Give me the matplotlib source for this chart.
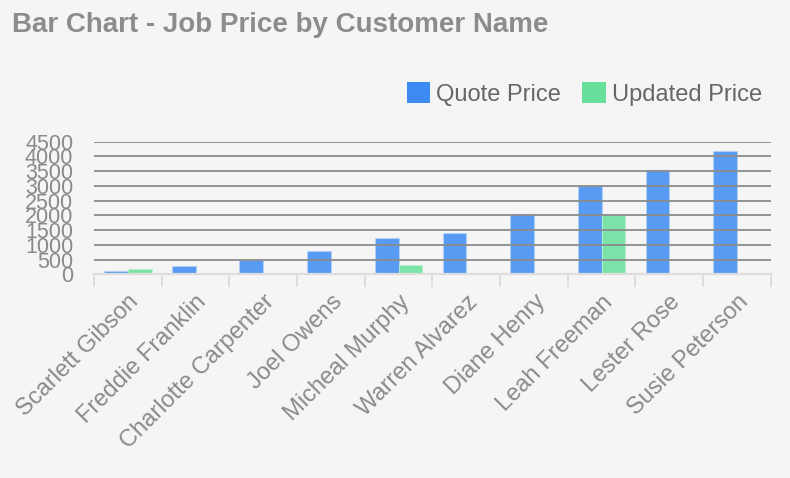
import matplotlib
matplotlib.use("Agg")
import matplotlib.pyplot as plt
from matplotlib.patches import Patch
import numpy as np

customers = ["Scarlett Gibson", "Freddie Franklin", "Charlotte Carpenter", "Joel Owens",
             "Micheal Murphy", "Warren Alvarez", "Diane Henry", "Leah Freeman",
             "Lester Rose", "Susie Peterson"]
quote_price = [120, 290, 500, 800, 1220, 1400, 2040, 3000, 3540, 4200]
updated_price = [180, None, None, None, 300, None, None, 2000, None, None]
y_ticks = [0, 500, 1000, 1500, 2000, 2500, 3000, 3500, 4000, 4500]
series_names = ["Quote Price", "Updated Price"]
title = "Bar Chart - Job Price by Customer Name"

plt.rcParams['font.family'] = ['Liberation Sans', 'DejaVu Sans']

W, H = 790, 478
fig = plt.figure(figsize=(W / 100, H / 100), dpi=100)
fig.patch.set_facecolor('#f5f5f5')
ax = fig.add_axes([94 / W, 1 - 274.3 / H, (770.7 - 94) / W, (274.3 - 141.7) / H])
ax.set_facecolor('#f5f5f5')

blue = '#3d8bf2'
green = '#66e09a'
x = np.arange(len(customers))
bw = 0.35
up = np.array([np.nan if v is None else v for v in updated_price], dtype=float)
ax.bar(x - bw / 2, quote_price, width=bw, color=blue, alpha=0.85,
       edgecolor='#b5d2f8', linewidth=0.8, zorder=2)
ax.bar(x + bw / 2, up, width=bw, color=green, alpha=0.85,
       edgecolor='#b8efcf', linewidth=0.8, zorder=2)

ax.set_xlim(-0.5, len(customers) - 0.5)
ax.set_ylim(0, 4500)
ax.set_yticks(y_ticks)
for v in y_ticks[1:]:
    ax.axhline(v, color='#8c8c8c', linewidth=1.3, zorder=3)

for s in ['top', 'right', 'left']:
    ax.spines[s].set_visible(False)
ax.spines['bottom'].set_color('#dddddd')
ax.spines['bottom'].set_linewidth(1.6)
ax.spines['bottom'].set_zorder(4)

ax.tick_params(axis='y', length=0, labelsize=15.5, labelcolor='#8a8a8a', pad=15)
ax.set_xticks(x)
ax.set_xticklabels(customers, rotation=45, ha='right', va='top',
                   rotation_mode='anchor', fontsize=17, color='#8a8a8a')
ax.tick_params(axis='x', which='major', length=0, pad=12)
ax.set_xticks(np.arange(-0.5, len(customers)), minor=True)
ax.tick_params(axis='x', which='minor', length=9, width=1.4, color='#dddddd')

fig.text(12 / W, 1 - 12 / H, title, fontsize=20, fontweight='bold',
         color='#8c8c8c', ha='left', va='top')

handles = [Patch(facecolor=blue, edgecolor='none'), Patch(facecolor=green, edgecolor='none')]
leg = fig.legend(handles, series_names, loc='center right',
                 bbox_to_anchor=(762 / W, 1 - 94 / H), ncol=2, frameon=False,
                 fontsize=17, handlelength=1.0, handleheight=1.0,
                 handletextpad=0.25, columnspacing=0.9, borderpad=0, borderaxespad=0)
for t in leg.get_texts():
    t.set_color('#666666')

fig.savefig('out.png', dpi=100, facecolor=fig.get_facecolor())
